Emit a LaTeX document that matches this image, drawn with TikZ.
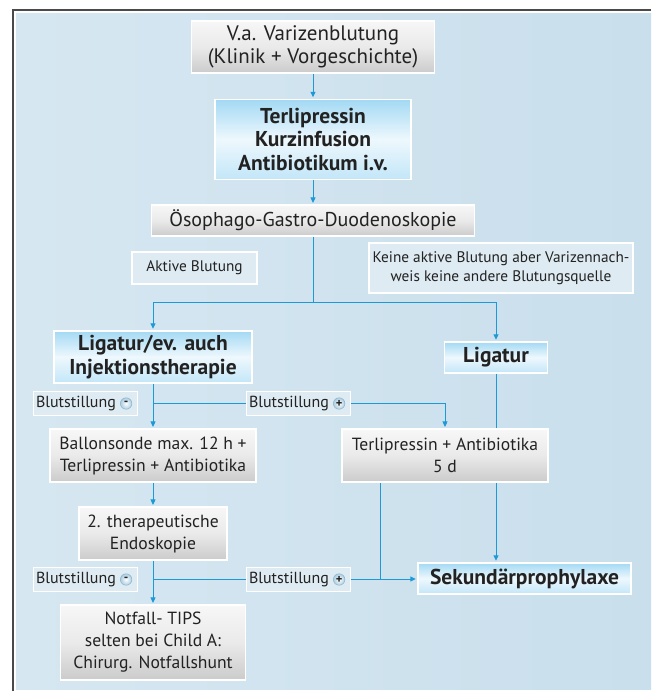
\documentclass[tikz,border=0pt]{standalone}
\usepackage{fontspec}
\setmainfont{PT Sans}
\usetikzlibrary{arrows.meta,calc}
\definecolor{arr}{HTML}{1B9AD7}
\definecolor{txt}{HTML}{222222}
\definecolor{frame}{HTML}{4A4A4A}
\definecolor{bgl}{HTML}{D6E7F1}
\definecolor{bgm}{HTML}{DFECF4}
\definecolor{bgr}{HTML}{C9DFEC}
\definecolor{gtop}{HTML}{F7F7F7}
\definecolor{gmid}{HTML}{EAEAEA}
\definecolor{gbot}{HTML}{CBCBCB}
\definecolor{btop}{HTML}{A3D9F4}
\definecolor{bmid}{HTML}{EEF8FD}
\definecolor{bbot}{HTML}{C2E6F8}
\definecolor{lab}{HTML}{DFEBF2}
\definecolor{signout}{HTML}{A9CDE2}
\definecolor{signrim}{HTML}{8FB3C8}
\pgfdeclareverticalshading{blueglow}{100bp}{color(0bp)=(bbot); color(25bp)=(bbot); color(50bp)=(bmid); color(75bp)=(btop); color(100bp)=(btop)}
\pgfdeclarelayer{back}
\pgfdeclarelayer{lines}
\pgfsetlayers{back,lines,main}
\tikzset{
  graybox/.style={draw=white, line width=1.2pt, top color=gtop, bottom color=gbot, middle color=gmid, inner sep=0pt, align=center, text=txt, font=\fontsize{17.6}{22}\selectfont},
  bigtext/.style={font=\fontsize{21}{23}\selectfont},
  midtext/.style={font=\fontsize{20}{22}\selectfont},
  bluebox/.style={draw=white, line width=1.5pt, shading=blueglow, inner sep=0pt, align=center, text=txt, font=\fontsize{21.5}{23.5}\selectfont\bfseries},
  labbox/.style={draw=white, line width=1.2pt, fill=lab, inner sep=0pt, align=center, text=txt, font=\fontsize{15.3}{19}\selectfont},
  bsbox/.style={labbox, minimum width=104pt, minimum height=24pt, font=\fontsize{16}{19}\selectfont},
  sign/.style={circle, minimum size=11.5pt, inner sep=0pt, draw=signrim, line width=0.5pt, inner color=white, outer color=signout, text=txt, font=\fontsize{12.5}{12.5}\selectfont\bfseries},
  conn/.style={draw=arr, line width=1pt},
  tip/.style={conn, -{Triangle[length=5.5pt,width=5pt]}, shorten >=1.5pt}
}
\begin{document}
\begin{tikzpicture}[x=1pt,y=-1pt]
\useasboundingbox (0,0) rectangle (651,691);
\begin{pgfonlayer}{back}
  \fill[white] (0,0) rectangle (651,691);
  \shade[left color=bgl, middle color=bgm, right color=bgr] (16,13) rectangle (651,689);
  \draw[frame, line width=2pt] (13,691) -- (13,10) -- (651,10);
\end{pgfonlayer}

\node[graybox, bigtext, minimum width=243pt, minimum height=52pt] (b1) at (313,47) {V.a. Varizenblutung\\(Klinik + Vorgeschichte)};
\node[bluebox, minimum width=196pt, minimum height=80pt] (b2) at (313,139.5) {Terlipressin\\Kurzinfusion\\Antibiotikum i.v.};
\node[graybox, midtext, minimum width=323pt, minimum height=31pt] (b3) at (313,220.5) {Ösophago-Gastro-Duodenoskopie};
\node[labbox, minimum width=125pt, minimum height=32pt] (aktiv) at (194.5,268) {Aktive Blutung};
\node[labbox, minimum width=264pt, minimum height=50pt] (keine) at (501,268) {Keine aktive Blutung aber Varizennach-\\weis keine andere Blutungsquelle};
\node[bluebox, minimum width=198pt, minimum height=52pt] (lig1) at (153,357) {Ligatur/ev. auch\\Injektionstherapie};
\node[bluebox, minimum width=103pt, minimum height=31pt] (lig2) at (496,357.5) {Ligatur};
\node[bsbox] (bs1) at (85.5,403.5) {Blutstillung\hspace{19pt}};
\node[bsbox] (bs2) at (298.5,403.5) {Blutstillung\hspace{19pt}};
\node[graybox, minimum width=206pt, minimum height=53pt] (ballon) at (153,455.5) {Ballonsonde max. 12 h +\\Terlipressin + Antibiotika};
\node[graybox, minimum width=206pt, minimum height=53pt] (terli) at (445,455.5) {Terlipressin + Antibiotika\\5 d};
\node[graybox, minimum width=148pt, minimum height=53pt] (endo) at (153,533.5) {2. therapeutische\\Endoskopie};
\node[bsbox] (bs3) at (85.5,579.5) {Blutstillung\hspace{19pt}};
\node[bsbox] (bs4) at (298.5,579.5) {Blutstillung\hspace{19pt}};
\node[graybox, minimum width=185pt, minimum height=75pt] (notf) at (153,642.5) {Notfall- TIPS\\selten bei Child A:\\Chirurg. Notfallshunt};
\node[bluebox, minimum width=213pt, minimum height=31pt] (sek) at (524.5,578.5) {Sekundärprophylaxe};

\node[sign] (s1) at ($(bs1.east)+(-12,0)$) {-};
\node[sign] (s2) at ($(bs2.east)+(-12,0)$) {+};
\node[sign] (s3) at ($(bs3.east)+(-12,0)$) {-};
\node[sign] (s4) at ($(bs4.east)+(-12,0)$) {+};

\coordinate (j1) at (313,302);
\coordinate (j2) at (153,403);
\coordinate (j3) at (153,579);
\coordinate (j4) at (380,579);

\begin{pgfonlayer}{lines}
  \draw[tip] (b1.south) -- (b2.north);
  \draw[tip] (b2.south) -- (b3.north);
  \draw[conn] (b3.south) -- (j1);
  \draw[tip] (j1) -| (lig1.north);
  \draw[tip] (j1) -| (lig2.north);
  \draw[tip] (lig1.south) -- (ballon.north);
  \draw[tip] (j2) -| (terli.north);
  \draw[tip] (lig2.south) -- (lig2.south |- sek.north);
  \draw[tip] (ballon.south) -- (endo.north);
  \draw[tip] (endo.south) -- (endo.south |- notf.north);
  \draw[tip] (j3) -- (j3 -| sek.west);
  \draw[conn] (j4 |- terli.south) -- (j4);
\end{pgfonlayer}
\end{tikzpicture}
\end{document}
